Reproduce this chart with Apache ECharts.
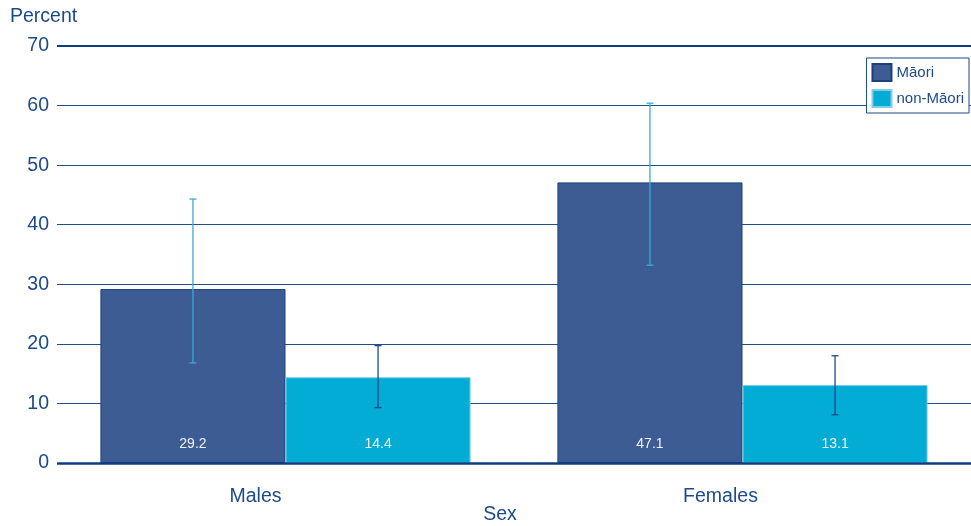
<!DOCTYPE html>
<html><head><meta charset="utf-8">
<script src="https://cdn.jsdelivr.net/npm/echarts@6/dist/echarts.min.js"></script>
<style>html,body{margin:0;padding:0;background:#fff}#c{width:971px;height:526px}</style>
</head><body><div id="c"></div>
<script>
const categories = ['Males', 'Females'];
const seriesNames = ['Māori', 'non-Māori'];
const maoriValues = [29.2, 47.1];
const nonMaoriValues = [14.4, 13.1];
const maoriLow = [16.8, 33.2];
const maoriHigh = [44.3, 60.4];
const nonMaoriLow = [9.3, 8.1];
const nonMaoriHigh = [19.7, 18.0];
const yTicks = [0, 10, 20, 30, 40, 50, 60, 70];

const catGap = 0.19;
const textColor = '#1b4a8a';

function errorSeries(low, high, side, color) {
  return {
    type: 'custom',
    z: 10,
    data: low.map((l, i) => [i, l, high[i]]),
    renderItem: function (params, api) {
      const i = api.value(0);
      const lo = api.coord([i, api.value(1)]);
      const hi = api.coord([i, api.value(2)]);
      const cw = api.size([1, 0])[0];
      const bw = cw * (1 - catGap) / 2;
      const x = lo[0] + side * bw / 2;
      const cap = 3.5;
      const style = { stroke: color, lineWidth: 1.3 };
      return {
        type: 'group',
        children: [
          { type: 'line', shape: { x1: x, y1: lo[1], x2: x, y2: hi[1] }, style: style },
          { type: 'line', shape: { x1: x - cap, y1: lo[1], x2: x + cap, y2: lo[1] }, style: style },
          { type: 'line', shape: { x1: x - cap, y1: hi[1], x2: x + cap, y2: hi[1] }, style: style }
        ]
      };
    }
  };
}

const chart = echarts.init(document.getElementById('c'));
const labelCfg = {
  show: true, position: 'insideBottom', distance: 12,
  color: '#eef3f8', fontSize: 14, fontFamily: 'Liberation Sans'
};
chart.setOption({
  animation: false,
  textStyle: { fontFamily: 'Liberation Sans' },
  grid: { left: 57, right: 0, top: 46, bottom: 63, containLabel: false, outerBoundsMode: 'none' },
  legend: {
    data: seriesNames,
    orient: 'vertical',
    right: 2, top: 58,
    itemWidth: 19, itemHeight: 17, itemGap: 7,
    padding: [5, 5, 5, 5],
    borderColor: '#1b4a8a', borderWidth: 1,
    backgroundColor: '#fff',
    textStyle: { color: textColor, fontSize: 15 },
    icon: 'rect'
  },
  xAxis: {
    type: 'category',
    data: categories,
    name: 'Sex',
    nameLocation: 'middle',
    nameGap: 42,
    nameMoveOverlap: false,
    nameTextStyle: { color: textColor, fontSize: 19.5, padding: [0, 28, 0, 0] },
    axisTick: { show: false },
    axisLine: { show: false },
    axisLabel: {
      color: textColor, fontSize: 19.5, margin: 24,
      formatter: function (v) { return v === 'Males' ? '{a|' + v + '}' : '{b|' + v + '}'; },
      rich: {
        a: { color: textColor, fontSize: 19.5, padding: [0, 60, 0, 0] },
        b: { color: textColor, fontSize: 19.5, padding: [0, 44, 0, 0] }
      }
    }
  },
  yAxis: {
    type: 'value',
    min: yTicks[0], max: yTicks[yTicks.length - 1], interval: 10,
    name: 'Percent',
    nameLocation: 'end',
    nameGap: 19,
    nameTextStyle: { color: textColor, fontSize: 19.5, align: 'left', padding: [0, 0, 0, -47] },
    axisLine: { show: false },
    axisTick: { show: false },
    axisLabel: { color: textColor, fontSize: 19.5, margin: 8 },
    splitLine: { lineStyle: { color: '#1f4e8c', width: 1 } }
  },
  series: [
    {
      name: seriesNames[0], type: 'bar', data: maoriValues,
      barGap: '0%', barCategoryGap: (catGap * 100) + '%',
      itemStyle: { color: '#3d5c94', borderColor: '#1e3f7c', borderWidth: 1 },
      label: labelCfg,
      markLine: {
        silent: true, symbol: 'none', label: { show: false },
        data: [
          { yAxis: 70, lineStyle: { color: '#0d3d80', width: 2.2, type: 'solid' } },
          { yAxis: 0, lineStyle: { color: '#0d3d80', width: 2.6, type: 'solid' } }
        ]
      }
    },
    {
      name: seriesNames[1], type: 'bar', data: nonMaoriValues,
      barGap: '0%', barCategoryGap: (catGap * 100) + '%',
      itemStyle: { color: '#03acd5', borderColor: '#7fcde6', borderWidth: 1 },
      label: labelCfg
    },
    errorSeries(maoriLow, maoriHigh, -1, '#35acd3'),
    errorSeries(nonMaoriLow, nonMaoriHigh, 1, '#1b4a8a')
  ]
});
</script></body></html>
